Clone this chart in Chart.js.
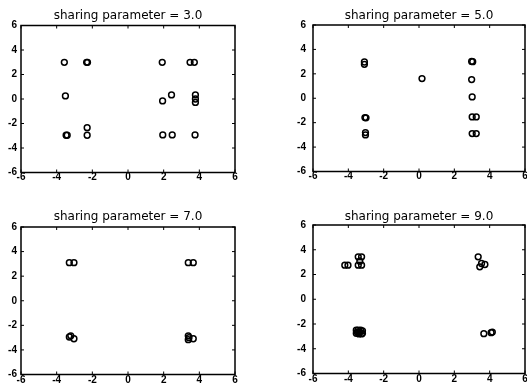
<!DOCTYPE html>
<html>
<head>
<meta charset="utf-8">
<script src="https://cdn.jsdelivr.net/npm/chart.js@4/dist/chart.umd.min.js"></script>
<style>
  html, body { margin: 0; padding: 0; background: #fff; overflow: hidden; }
  body { width: 527px; height: 388px; position: relative; }
  canvas { position: absolute; }
</style>
</head>
<body>
<canvas id="c1" width="263" height="194" style="left:0;top:0"></canvas>
<canvas id="c2" width="280" height="194" style="left:264px;top:0"></canvas>
<canvas id="c3" width="263" height="194" style="left:0;top:194px"></canvas>
<canvas id="c4" width="280" height="194" style="left:264px;top:194px"></canvas>
<script>
// values
const titles = ['sharing parameter = 3.0', 'sharing parameter = 5.0',
                'sharing parameter = 7.0', 'sharing parameter = 9.0'];
const axisMin = -6;
const axisMax = 6;
const tickStep = 2;

const x30 = [-3.57, -2.32, -2.27, 1.92, 3.48, 3.72, -3.51, 1.94, 2.44, 3.78, 3.78, 3.78, -3.47, -3.41, -2.29, -2.29, 1.95, 2.48, 3.76];
const y30 = [2.99, 2.99, 2.99, 2.99, 2.99, 2.99, 0.25, -0.16, 0.33, 0.33, 0.0, -0.28, -2.96, -2.96, -2.34, -2.96, -2.93, -2.93, -2.93];

const x50 = [-3.09, -3.09, 0.17, 2.98, 3.04, 2.98, 3.01, 3.01, 3.24, 3.01, 3.24, -3.06, -3.0, -3.03, -3.03];
const y50 = [2.97, 2.78, 1.61, 3.02, 3.0, 1.53, 0.11, -1.53, -1.53, -2.89, -2.89, -1.58, -1.6, -2.81, -3.0];

const x70 = [-3.29, -3.03, 3.38, 3.66, -3.29, -3.21, -3.03, 3.38, 3.38, 3.42, 3.66];
const y70 = [3.1, 3.1, 3.1, 3.1, -2.95, -2.85, -3.09, -2.85, -3.17, -3.0, -3.09];

const x90 = [-4.2, -4.02, -3.44, -3.25, -3.44, -3.25, -3.35, 3.35, 3.54, 3.73, 3.44,
             -3.55, -3.45, -3.3, -3.2, -3.55, -3.4, -3.25, -3.5, -3.35, -3.2, 3.67, 4.08, 4.15];
const y90 = [2.75, 2.75, 3.43, 3.43, 2.75, 2.75, 3.08, 3.43, 2.89, 2.81, 2.62,
             -2.5, -2.5, -2.5, -2.55, -2.75, -2.8, -2.8, -2.65, -2.65, -2.75, -2.78, -2.7, -2.65];

// box + inward tick marks, like the original plots
const framePlugin = {
    id: 'frame',
    afterDraw(chart) {
        const a = chart.chartArea;
        const ctx = chart.ctx;
        ctx.save();
        ctx.strokeStyle = '#000';
        ctx.lineWidth = 1;
        const xs = chart.scales.x, ys = chart.scales.y;
        ctx.beginPath();
        xs.ticks.forEach(t => {
            const px = xs.getPixelForValue(t.value);
            ctx.moveTo(px, a.bottom); ctx.lineTo(px, a.bottom - 3);
            ctx.moveTo(px, a.top); ctx.lineTo(px, a.top + 3);
        });
        ys.ticks.forEach(t => {
            const py = ys.getPixelForValue(t.value);
            ctx.moveTo(a.left, py); ctx.lineTo(a.left + 3, py);
            ctx.moveTo(a.right, py); ctx.lineTo(a.right - 3, py);
        });
        ctx.stroke();
        ctx.lineWidth = 1.5;
        ctx.strokeRect(a.left, a.top, a.right - a.left, a.bottom - a.top);
        ctx.restore();
    }
};

// panel: canvas box (cx, cy, cw, ch), plot area (L, T, R, B), title centre tcy
function makePanel(id, title, xs, ys, p) {
    const pts = xs.map((x, i) => ({ x: x, y: ys[i] }));
    const tickFont = { family: 'Liberation Sans', size: 10, weight: 'bold' };
    return new Chart(document.getElementById(id), {
        type: 'scatter',
        data: {
            datasets: [{
                data: pts,
                pointStyle: 'circle',
                pointRadius: 2.9,
                pointBorderWidth: 1.5,
                borderColor: '#000',
                backgroundColor: 'rgba(0,0,0,0)'
            }]
        },
        options: {
            responsive: false,
            animation: false,
            events: [],
            layout: {
                padding: { left: 0, right: p.cx + p.cw - p.R, top: p.tcy - p.cy - 7.2, bottom: 0 }
            },
            plugins: {
                legend: { display: false },
                tooltip: { enabled: false },
                title: {
                    display: true,
                    text: title,
                    fullSize: false,
                    color: '#000',
                    font: { family: 'DejaVu Sans', size: 12, weight: 'normal' },
                    padding: { top: 0, bottom: p.T - p.tcy - 7.2 }
                }
            },
            scales: {
                x: {
                    type: 'linear',
                    min: axisMin, max: axisMax,
                    grid: { display: false, drawTicks: false },
                    border: { display: false },
                    ticks: { stepSize: tickStep, color: '#000', font: tickFont, padding: p.xpad, maxRotation: 0 },
                    afterFit: s => { s.height = p.cy + p.ch - p.B; }
                },
                y: {
                    type: 'linear',
                    min: axisMin, max: axisMax,
                    grid: { display: false, drawTicks: false },
                    border: { display: false },
                    ticks: { stepSize: tickStep, color: '#000', font: tickFont, padding: p.ypad },
                    afterFit: s => { s.width = p.L - p.cx; }
                }
            }
        },
        plugins: [framePlugin]
    });
}

makePanel('c1', titles[0], x30, y30, { cx: 0, cy: 0, cw: 263, ch: 194, L: 21, T: 25.5, R: 235, B: 172.5, tcy: 15.5, xpad: -1, ypad: 4 });
makePanel('c2', titles[1], x50, y50, { cx: 264, cy: 0, cw: 280, ch: 194, L: 313, T: 25, R: 525, B: 171.5, tcy: 15.5, xpad: -1, ypad: 7 });
makePanel('c3', titles[2], x70, y70, { cx: 0, cy: 194, cw: 263, ch: 194, L: 21, T: 227, R: 235, B: 374.5, tcy: 216.8, xpad: 0, ypad: 4 });
makePanel('c4', titles[3], x90, y90, { cx: 264, cy: 194, cw: 280, ch: 194, L: 313, T: 225, R: 525, B: 373.5, tcy: 216.8, xpad: 0, ypad: 7 });
</script>
</body>
</html>
